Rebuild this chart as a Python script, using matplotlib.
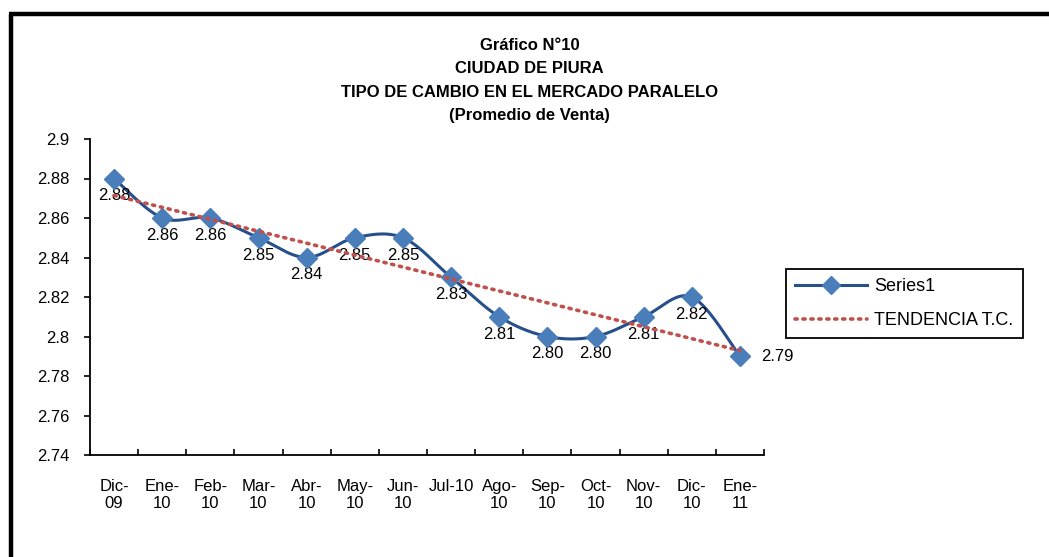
import numpy as np
import matplotlib
matplotlib.use('Agg')
import matplotlib.pyplot as plt
from matplotlib.lines import Line2D

plt.rcParams['font.family'] = ['Liberation Sans', 'DejaVu Sans']

months = ['Dic-\n09', 'Ene-\n10', 'Feb-\n10', 'Mar-\n10', 'Abr-\n10', 'May-\n10', 'Jun-\n10',
          'Jul-10', 'Ago-\n10', 'Sep-\n10', 'Oct-\n10', 'Nov-\n10', 'Dic-\n10', 'Ene-\n11']
values = [2.88, 2.86, 2.86, 2.85, 2.84, 2.85, 2.85, 2.83, 2.81, 2.80, 2.80, 2.81, 2.82, 2.79]
yticks = [2.74, 2.76, 2.78, 2.8, 2.82, 2.84, 2.86, 2.88, 2.9]
ytick_labels = ['2.74', '2.76', '2.78', '2.8', '2.82', '2.84', '2.86', '2.88', '2.9']

x = np.arange(len(values))
y = np.array(values)

# Excel-like smoothed line (Catmull-Rom through the points)
def smooth(xs, ys, n=30):
    px = np.concatenate([[xs[0]], xs, [xs[-1]]])
    py = np.concatenate([[ys[0]], ys, [ys[-1]]])
    ox, oy = [], []
    t = np.linspace(0, 1, n)
    for i in range(1, len(px) - 2):
        p0, p1, p2, p3 = [np.array([px[j], py[j]]) for j in (i - 1, i, i + 1, i + 2)]
        c1 = p1 + (p2 - p0) / 6
        c2 = p2 - (p3 - p1) / 6
        b = ((1 - t) ** 3)[:, None] * p1 + (3 * (1 - t) ** 2 * t)[:, None] * c1 \
            + (3 * (1 - t) * t ** 2)[:, None] * c2 + (t ** 3)[:, None] * p2
        ox.extend(b[:, 0]); oy.extend(b[:, 1])
    return ox, oy

sx, sy = smooth(x, y)
coef = np.polyfit(x, y, 1)
trend = np.polyval(coef, x)

blue_line = '#264F8C'
blue_mark = '#4A7EBB'
red = '#C0504D'
fs = 12

fig = plt.figure(figsize=(10.49, 5.57), dpi=100)
ax = fig.add_axes([90 / 1049, 1 - 455 / 557, 674 / 1049, 316 / 557])

ax.plot(sx, sy, color=blue_line, lw=2.2, zorder=3)
ax.plot(x, y, ls='none', marker='D', ms=10, color=blue_mark, zorder=4)
ax.plot(x, trend, color=red, lw=2.6, ls=(0, (0.6, 1.6)), dash_capstyle='round', zorder=5)

for i, v in enumerate(values):
    if i == len(values) - 1:
        ax.annotate('%.2f' % v, (i, v), xytext=(15, 0), textcoords='offset points',
                    ha='left', va='center', fontsize=fs)
    else:
        ax.annotate('%.2f' % v, (i, v), xytext=(0, -12.5), textcoords='offset points',
                    ha='center', va='center', fontsize=fs)

ax.set_xlim(-0.5, len(values) - 0.5)
ax.set_ylim(2.74, 2.9)
ax.set_yticks(yticks)
ax.set_yticklabels(ytick_labels)
ax.set_xticks(x)
ax.set_xticklabels(months, linespacing=1.2)
ax.set_xticks(np.arange(-0.5, len(values)), minor=True)
ax.tick_params(axis='x', which='major', length=0, pad=17, labelsize=fs)
ax.tick_params(axis='x', which='minor', direction='in', length=4, width=1.2)
ax.tick_params(axis='y', direction='out', length=4, width=1.2, pad=11, labelsize=fs)
for s in ['top', 'right']:
    ax.spines[s].set_visible(False)
for s in ['left', 'bottom']:
    ax.spines[s].set_linewidth(1.3)

handles = [Line2D([], [], color=blue_line, lw=2.2, marker='D', ms=9, mfc=blue_mark, mec=blue_mark),
           Line2D([], [], color=red, lw=2.6, ls=(0, (0.6, 1.6)), dash_capstyle='round')]
leg = fig.legend(handles, ['Series1', 'TENDENCIA T.C.'], loc='upper left',
                 bbox_to_anchor=(786 / 1049, 1 - 269 / 557), borderaxespad=0, fancybox=False,
                 edgecolor='black', fontsize=13, handlelength=4.0, handletextpad=0.4,
                 borderpad=0.5, labelspacing=0.95, framealpha=1)
leg.get_frame().set_linewidth(1.3)

fig.text(0.505, 1 - 38 / 557, 'Gráfico N°10\nCIUDAD DE PIURA\nTIPO DE CAMBIO EN EL MERCADO PARALELO\n(Promedio de Venta)',
         ha='center', va='top', fontsize=12, fontweight='bold', linespacing=1.7)

fig.add_artist(Line2D([8.5 / 1049, 1], [1 - 14 / 557, 1 - 14 / 557], color='black', lw=3.2,
                      solid_capstyle='butt', transform=fig.transFigure))
fig.add_artist(Line2D([10.5 / 1049, 10.5 / 1049], [0, 1 - 14 / 557], color='black', lw=3.2,
                      solid_capstyle='butt', transform=fig.transFigure))

fig.savefig('out.png', dpi=100)
